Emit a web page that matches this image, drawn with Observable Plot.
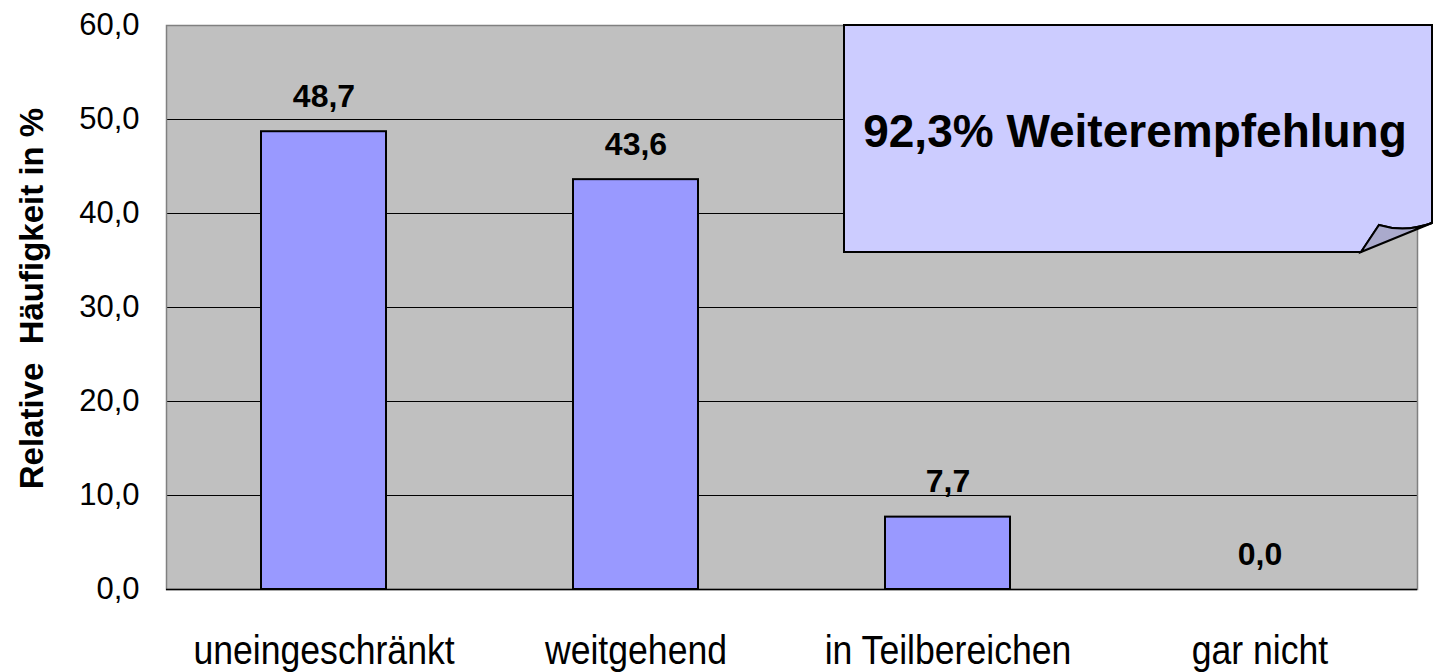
<!DOCTYPE html>
<html>
<head>
<meta charset="utf-8">
<script src="https://cdn.jsdelivr.net/npm/d3@7"></script>
<script src="https://cdn.jsdelivr.net/npm/@observablehq/plot@0.6"></script>
<style>
  html, body { margin: 0; padding: 0; background: #ffffff; }
  #chart { width: 1435px; height: 672px; }
</style>
</head>
<body>
<div id="chart"></div>
<script>
const categories = ["uneingeschränkt", "weitgehend", "in Teilbereichen", "gar nicht"];
const values = [48.7, 43.6, 7.7, 0.0];
const yTicks = [0, 10, 20, 30, 40, 50, 60];
const yTitle = "Relative\u00a0 Häufigkeit in %";
const calloutText = "92,3% Weiterempfehlung";

const data = categories.map((c, i) => ({category: c, value: values[i]}));
const fmt = d => d.toFixed(1).replace(".", ",");

const plot = Plot.plot({
  width: 1435,
  height: 672,
  marginLeft: 166,
  marginRight: 18,
  marginTop: 25,
  marginBottom: 83,
  style: {fontFamily: "'Liberation Sans', Arial, sans-serif", background: "#ffffff", color: "#000"},
  x: {domain: categories, paddingInner: 0.6, paddingOuter: 0.3, label: null},
  y: {domain: [0, 60], label: null},
  marks: [
    Plot.frame({fill: "#c0c0c0", stroke: "none"}),
    Plot.ruleY(yTicks.filter(t => t > 0 && t < 60), {stroke: "#000", strokeWidth: 1}),
    Plot.frame({stroke: "#808080", strokeWidth: 1.5}),
    Plot.barY(data, {x: "category", y: "value", fill: "#9999ff", stroke: "#000", strokeWidth: 2}),
    Plot.ruleY([0], {stroke: "#000", strokeWidth: 1.5}),
    Plot.text(data, {x: "category", y: "value", text: d => fmt(d.value), dy: -35,
      fontSize: 32, fontWeight: "bold", fill: "#000"}),
    Plot.axisY({ticks: yTicks, tickFormat: fmt, tickSize: 0, tickPadding: 27, fontSize: 31, label: null, fill: "#000"}),
    Plot.axisX({tickSize: 0, tickPadding: 46, fontSize: 40, label: null, fill: "#000"}),
    Plot.text([yTitle], {frameAnchor: "left", text: d => d, rotate: -90, dx: -134, dy: -9,
      textAnchor: "middle", fontSize: 33, fontWeight: "bold", fill: "#000"})
  ]
});

document.getElementById("chart").appendChild(plot);

// Condense the category labels (reference uses a narrow face)
d3.select(plot).selectAll("g[aria-label='x-axis tick label'] text").each(function() {
  const t = this.getAttribute("transform") || "";
  this.setAttribute("transform", t + " scale(0.89,1)");
});

// Callout annotation (note with curled corner)
const svg = d3.select(plot);
const g = svg.append("g");
g.append("path")
  .attr("d", "M844,25 H1432 V223 Q1405,233 1379,225 L1361,252 H844 Z")
  .attr("fill", "#ccccff").attr("stroke", "#000").attr("stroke-width", 2);
g.append("path")
  .attr("d", "M1379,225 Q1405,233 1432,223 L1361,252 Z")
  .attr("fill", "#aaaacc").attr("stroke", "#000").attr("stroke-width", 2);
g.append("text")
  .attr("x", 1135).attr("y", 147)
  .attr("text-anchor", "middle")
  .attr("font-family", "'Liberation Sans', Arial, sans-serif")
  .attr("font-weight", "bold").attr("font-size", 46).attr("fill", "#000")
  .text(calloutText);
</script>
</body>
</html>
